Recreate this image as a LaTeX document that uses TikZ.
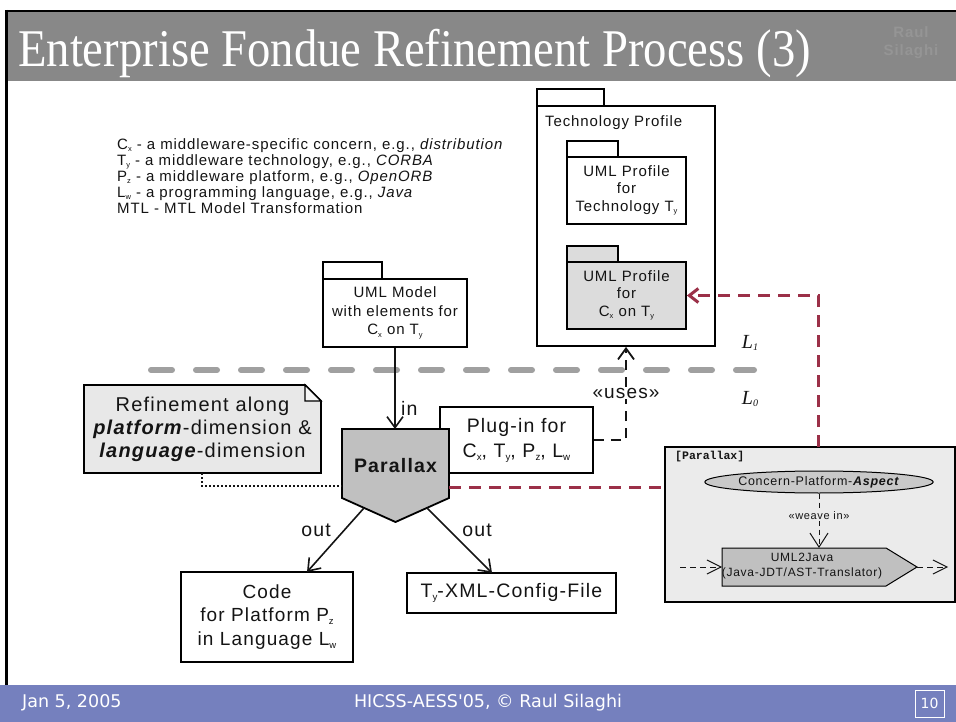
\documentclass[tikz,border=0pt]{standalone}
\usepackage{fontspec}
\setmainfont[LetterSpace=6]{Liberation Sans}
\setmonofont{Liberation Mono}
\newfontfamily\timesf{Liberation Serif}
\newfontfamily\footf{DejaVu Sans}
\usetikzlibrary{arrows.meta,shapes.geometric}
\definecolor{titlegray}{HTML}{888888}
\definecolor{footblue}{HTML}{7580BE}
\definecolor{maroon}{HTML}{9B3048}
\definecolor{lgray}{HTML}{DCDCDC}
\definecolor{mgray}{HTML}{C0C0C0}
\definecolor{boxgray}{HTML}{EBEBEB}
\definecolor{notegray}{HTML}{E8E8E8}
\definecolor{dashgray}{HTML}{A0A0A0}
\definecolor{ink}{HTML}{141414}
\definecolor{logogray}{HTML}{959595}
\newcommand\subs[1]{\raisebox{-0.3ex}{\scalebox{0.5}{#1}}}
\newcommand\fs[2]{\fontsize{#1}{#2}\selectfont}
\begin{document}
\begin{tikzpicture}[x=1pt,y=-1pt,
  box/.style={draw=black, line width=1.8pt, fill=white, inner sep=0pt, text=ink},
  tab/.style={draw=black, line width=1.8pt, fill=white},
  conn/.style={line width=1.6pt, draw=ink},
  vhead/.style={-{Straight Barb[length=11pt,width=16pt]}},
  lbl/.style={text=ink, inner sep=0pt},
  reddash/.style={draw=maroon, line width=3pt, dash pattern=on 12pt off 8pt},
]
\useasboundingbox (0,0) rectangle (956,722);
\fill[white] (0,0) rectangle (956,722);
% title bar
\fill[titlegray] (5,12) rectangle (956,81);
\draw[black, line width=2.6pt] (5,11) -- (956,11);
\draw[black, line width=2.6pt] (6.5,10) -- (6.5,685);
\node[anchor=base west, inner sep=0pt, text=white] (title) at (18,67)
  {\scalebox{0.88}[1]{\timesf\fs{53}{60}Enterprise Fondue Refinement Process (3)}};
\node[text=logogray, font=\bfseries\fs{15}{18}, align=center, inner sep=0pt] (logo) at (911,43) {Raul\\Silaghi};
% footer
\fill[footblue] (0,685) rectangle (956,722);
\node[anchor=west, text=white, font=\footf\fs{17.5}{20}, inner sep=0pt] (date) at (22,703) {Jan 5, 2005};
\node[text=white, font=\footf\fs{17.5}{20}, inner sep=0pt] (conf) at (488,703) {HICSS-AESS'05, © Raul Silaghi};
\node[draw=white, line width=0.8pt, minimum width=29pt, minimum height=27pt, inner sep=0pt, text=white, font=\footf\fs{14}{15}] (pg) at (929.5,703.5) {10};
% legend
\node[anchor=north west, align=left, lbl, font=\fs{15}{16}] (legend) at (117,138)
{C\subs{x} - a middleware-specific concern, e.g., \textit{distribution}\\
T\subs{y} - a middleware technology, e.g., \textit{CORBA}\\
P\subs{z} - a middleware platform, e.g., \textit{OpenORB}\\
L\subs{w} - a programming language, e.g., \textit{Java}\\
MTL - MTL Model Transformation};
% gray level line
\coordinate (ls) at (151,370);
\coordinate (le) at (754,370);
\draw[dashgray, line width=6pt, line cap=round, dash pattern=on 21pt off 24pt] (ls) -- (le);
\node[lbl, font=\timesf\itshape\fs{20}{20}] (l1) at (750,343) {L\subs{1}};
\node[lbl, font=\timesf\itshape\fs{20}{20}] (l0) at (750,399) {L\subs{0}};
% technology profile
\draw[tab] (537,89) rectangle (604,106);
\node[box, minimum width=178pt, minimum height=240pt] (tp) at (626,226) {};
\node[anchor=west, lbl, font=\fs{15}{18}] (tplabel) at (545,123) {Technology Profile};
\draw[tab] (567,141) rectangle (618,157);
\node[box, minimum width=119pt, minimum height=67pt, align=center, font=\fs{15}{17.5}] (p1) at (626.5,190.5)
  {UML Profile\\for\\Technology T\subs{y}};
\draw[tab, fill=lgray] (567,246) rectangle (618,262);
\node[box, fill=lgray, minimum width=119pt, minimum height=67pt, align=center, font=\fs{15}{17.5}] (p2) at (626.5,295.5)
  {UML Profile\\for\\C\subs{x} on T\subs{y}};
% UML model
\draw[tab] (323,262) rectangle (382,279);
\node[box, minimum width=144pt, minimum height=68pt, align=center, font=\fs{15}{18.5}] (um) at (395,313)
  {UML Model\\with elements for\\C\subs{x} on T\subs{y}};
% plug-in
\node[box, minimum width=153pt, minimum height=66pt, align=center, font=\fs{19.5}{25}] (plug) at (516.5,440)
  {Plug-in for\\C\subs{x}, T\subs{y}, P\subs{z}, L\subs{w}};
% Parallax
\draw[line width=1.8pt, fill=mgray] (342,429) -- (449,429) -- (449,498) -- (395.5,522) -- (342,498) -- cycle;
\node[lbl, font=\bfseries\fs{19.5}{20}] (par) at (395.5,466) {Parallax};
\coordinate (partop) at (395,429);
\coordinate (parR) at (449,487);
\coordinate (parL) at (342,486);
\coordinate (parSL) at (364,508);
\coordinate (parSR) at (427,508);
% note
\draw[line width=1.8pt, fill=notegray] (84,385) -- (305,385) -- (321,401) -- (321,473) -- (84,473) -- cycle;
\draw[line width=1.4pt, fill=notegray!40] (305,385) -- (305,401) -- (321,401) -- cycle;
\node[lbl, align=center, font=\fs{20}{23}] (note) at (202.5,429)
  {Refinement along\\\textbf{\textit{platform}}-dimension \&\\\textbf{\textit{language}}-dimension};
\coordinate (noteb) at (202,473);
\draw[ink, line width=1.6pt, dash pattern=on 2pt off 2pt] (noteb) |- (parL);
% outputs
\node[box, minimum width=172pt, minimum height=90pt, align=center, font=\fs{19}{23.5}] (code) at (267,617)
  {Code\\for Platform P\subs{z}\\in Language L\subs{w}};
\node[box, minimum width=209pt, minimum height=40pt, font=\fs{19.5}{20}] (xml) at (511.5,593) {T\subs{y}-XML-Config-File};
\coordinate (codein) at (307,572);
\coordinate (xmlin) at (492,573);
% connectors
\draw[conn, vhead] (um.south) -- (partop);
\node[lbl, anchor=west, font=\fs{19.5}{20}] (inlbl) at (401,408) {in};
\draw[conn, vhead] (parSL) -- (codein);
\draw[conn, vhead] (parSR) -- (xmlin);
\node[lbl, font=\fs{19.5}{20}] (out1) at (316,530) {out};
\node[lbl, font=\fs{19.5}{20}] (out2) at (477,530) {out};
\draw[conn, line width=1.8pt, dash pattern=on 10pt off 7pt, vhead] (plug.east) -| (tp.south);
\node[fill=white, inner sep=1pt, font=\fs{19}{20}, text=ink] (uses) at (626,393) {«uses»};
% gray Parallax box
\node[draw=black, line width=1.5pt, fill=boxgray, minimum width=290pt, minimum height=155pt, inner sep=0pt] (gb) at (810,524.5) {};
\coordinate (gbtop) at (818,447);
\draw[reddash] (parR) -- (parR -| gb.west);
\draw[reddash, -{Straight Barb[length=9pt,width=14pt]}] (gbtop) |- (p2.east);
\node[anchor=north west, font=\ttfamily\bfseries\fs{11.5}{12}, lbl] (gblabel) at (675,451) {[Parallax]};
\node[ellipse, draw=black, line width=1pt, fill=mgray!85, minimum width=198pt, minimum height=22pt, inner sep=0pt, font=\fs{12.5}{14}, text=ink] (asp) at (819,482)
  {Concern-Platform-\textbf{\textit{Aspect}}};
\draw[line width=1pt, fill=mgray] (722,548) -- (886,548) -- (917,567) -- (886,586) -- (722,586) -- cycle;
\node[lbl, align=center, font=\fs{12}{15}] (u2j) at (802,566) {UML2Java\\(Java-JDT/AST-Translator)};
\coordinate (u2jtop) at (819,548);
\coordinate (u2jL) at (722,567);
\coordinate (u2jR) at (917,567);
\coordinate (inpt) at (680,567);
\coordinate (outpt) at (948,567);
\draw[ink, line width=1pt, dash pattern=on 5pt off 4pt, -{Straight Barb[length=14pt,width=18pt]}] (asp.south) -- (u2jtop);
\node[fill=boxgray, inner sep=1pt, font=\fs{11}{12}, text=ink] (weave) at (819,516) {«weave in»};
\draw[ink, line width=1pt, dash pattern=on 6pt off 4pt, -{Straight Barb[length=14pt,width=14pt]}] (inpt) -- (u2jL);
\draw[ink, line width=1pt, dash pattern=on 6pt off 4pt, -{Straight Barb[length=14pt,width=14pt]}] (u2jR) -- (outpt);
\end{tikzpicture}
\end{document}
